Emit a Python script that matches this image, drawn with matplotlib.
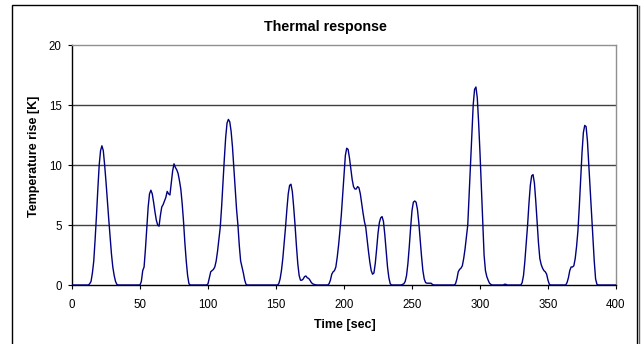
import matplotlib
matplotlib.use("Agg")
import matplotlib.pyplot as plt
from matplotlib.patches import Rectangle
from matplotlib.lines import Line2D

plt.rcParams['font.family'] = ['Liberation Sans', 'DejaVu Sans']

title = "Thermal response"
xlabel = "Time [sec]"
ylabel = "Temperature rise [K]"
xticks = [0, 50, 100, 150, 200, 250, 300, 350, 400]
yticks = [0, 5, 10, 15, 20]

# time [s] and temperature rise [K]
time_s = [0,
          12, 13, 14, 15, 16, 17, 18, 19, 20, 21, 22, 23, 24, 25, 26, 27, 28, 29, 30, 31, 32, 33, 34,
          50, 51, 52, 53, 54, 55, 56, 57, 58, 59, 60, 61, 62, 63, 64, 65, 66, 67, 68, 69, 70,
          71, 72, 73, 74, 75, 76, 77, 78, 79, 80, 81, 82, 83, 84, 85, 86, 87,
          99, 100, 101, 102, 103, 104, 105, 106, 107, 108, 109, 110, 111, 112, 113, 114, 115,
          116, 117, 118, 119, 120, 121, 122, 123, 124, 125, 126, 127, 128, 129,
          151, 152, 153, 154, 155, 156, 157, 158, 159, 160, 161, 162, 163, 164, 165, 166, 167,
          168, 169, 170, 171, 172, 173, 174, 175, 176, 177, 178, 179, 180,
          188, 189, 190, 191, 192, 193, 194, 195, 196, 197, 198, 199, 200, 201, 202, 203, 204,
          205, 206, 207, 208, 209, 210, 211, 212, 213, 214, 215, 216, 217, 218, 219, 220, 221,
          222, 223, 224, 225, 226, 227, 228, 229, 230, 231, 232, 233, 234, 235,
          242, 243, 244, 245, 246, 247, 248, 249, 250, 251, 252, 253, 254, 255, 256, 257, 258,
          259, 260, 261, 262, 263, 264, 265, 266,
          281, 282, 283, 284, 285, 286, 287, 288, 289, 290, 291, 292, 293, 294, 295, 296, 297,
          298, 299, 300, 301, 302, 303, 304, 305, 306, 307, 308, 309,
          317, 318, 319, 320,
          330, 331, 332, 333, 334, 335, 336, 337, 338, 339, 340, 341, 342, 343, 344, 345, 346,
          347, 348, 349, 350, 351, 352,
          363, 364, 365, 366, 367, 368, 369, 370, 371, 372, 373, 374, 375, 376, 377, 378, 379,
          380, 381, 382, 383, 384, 385, 386, 387,
          400]
temp_k = [0,
          0, 0.1, 0.3, 1.0, 2.0, 3.8, 5.8, 8.0, 10.0, 11.2, 11.6, 11.2, 10.0, 8.6, 7.0, 5.5, 4.0, 2.6, 1.5, 0.8, 0.3, 0.05, 0,
          0, 0.3, 1.2, 1.5, 3.0, 4.8, 6.5, 7.6, 7.9, 7.6, 6.9, 6.1, 5.4, 5.0, 4.9, 5.8, 6.5, 6.7, 7.0, 7.3, 7.8,
          7.6, 7.5, 8.5, 9.5, 10.1, 9.8, 9.6, 9.3, 8.7, 8.0, 6.8, 5.3, 3.5, 2.0, 0.8, 0.1, 0,
          0, 0.1, 0.6, 1.1, 1.2, 1.3, 1.5, 2.0, 2.8, 3.8, 4.8, 6.5, 8.5, 10.5, 12.3, 13.5, 13.8,
          13.6, 12.8, 11.5, 9.8, 8.0, 6.3, 5.0, 3.3, 2.0, 1.5, 1.0, 0.4, 0.05, 0,
          0, 0.1, 0.5, 1.2, 2.2, 3.5, 4.8, 6.3, 7.6, 8.3, 8.4, 7.8, 6.5, 5.0, 3.3, 1.8, 0.8,
          0.4, 0.4, 0.5, 0.7, 0.75, 0.6, 0.55, 0.4, 0.2, 0.1, 0.05, 0.02, 0,
          0, 0.1, 0.4, 0.9, 1.1, 1.2, 1.5, 2.3, 3.3, 4.5, 5.8, 7.5, 9.3, 10.8, 11.4, 11.3, 10.6,
          9.7, 8.8, 8.2, 8.0, 8.0, 8.2, 8.1, 7.6, 6.8, 6.0, 5.3, 4.8, 3.8, 2.8, 1.9, 1.2, 0.9,
          1.0, 1.8, 3.0, 4.3, 5.2, 5.6, 5.7, 5.3, 4.2, 2.8, 1.5, 0.6, 0.1, 0,
          0, 0.05, 0.1, 0.3, 0.8, 1.8, 3.2, 4.8, 6.2, 6.9, 7.0, 6.9, 6.3, 5.2, 3.8, 2.4, 1.2,
          0.5, 0.2, 0.15, 0.15, 0.15, 0.15, 0.05, 0,
          0, 0.1, 0.5, 1.1, 1.3, 1.4, 1.6, 2.2, 3.0, 4.0, 5.0, 7.5, 10.0, 12.5, 15.0, 16.3, 16.5,
          15.6, 13.5, 11.0, 8.2, 5.2, 2.5, 1.2, 0.7, 0.4, 0.15, 0.05, 0,
          0, 0.06, 0.06, 0,
          0, 0.2, 0.8, 2.0, 3.5, 5.0, 6.8, 8.3, 9.1, 9.2, 8.5, 7.0, 5.3, 3.5, 2.2, 1.7, 1.4,
          1.2, 1.1, 0.9, 0.4, 0.05, 0,
          0, 0.2, 0.6, 1.2, 1.5, 1.5, 1.6, 2.2, 3.2, 4.5, 6.5, 8.8, 11.0, 12.7, 13.3, 13.2, 12.0,
          10.0, 8.0, 6.0, 4.0, 2.0, 0.5, 0.05, 0,
          0]

W, H = 642, 344
fig = plt.figure(figsize=(W / 100, H / 100), dpi=100)
ax = fig.add_axes([72 / W, 1 - 285 / H, (616 - 72) / W, (285 - 45) / H])

ax.plot(time_s, temp_k, color='#000080', lw=1.0, zorder=3)

ax.set_xlim(0, 400)
ax.set_ylim(0, 20)
ax.set_xticks(xticks)
ax.set_yticks(yticks)
ax.tick_params(axis='both', direction='out', length=3, width=0.8, labelsize=8.3, colors='black')
ax.tick_params(axis='x', pad=7)
ax.tick_params(axis='y', pad=4.5)
for v in yticks[1:-1]:
    ax.axhline(v, color='#404040', lw=1.0, zorder=1)
for s in ('top', 'right'):
    ax.spines[s].set_color('#909090')
    ax.spines[s].set_linewidth(1.0)
for s in ('left', 'bottom'):
    ax.spines[s].set_color('black')
    ax.spines[s].set_linewidth(1.0)

fig.text(325.8 / W, 1 - 31 / H, title, ha='center', va='baseline',
         fontsize=10.3, fontweight='bold')
fig.text(345 / W, 1 - 328.3 / H, xlabel, ha='center', va='baseline',
         fontsize=9, fontweight='bold')
fig.text(33.5 / W, 1 - 156.7 / H, ylabel, ha='center', va='center', rotation=90,
         fontsize=9, fontweight='bold')

# outer chart frame
fig.patches.append(Rectangle((12 / W, -0.05), (637 - 12) / W, 1 - 5 / H + 0.05,
                             transform=fig.transFigure, fill=False,
                             edgecolor='black', lw=1.0))
fig.lines.append(Line2D([638.5 / W, 638.5 / W], [-0.05, 1 - 6 / H],
                        transform=fig.transFigure, color='#606060', lw=1.0))

fig.savefig('out.png', dpi=100)
